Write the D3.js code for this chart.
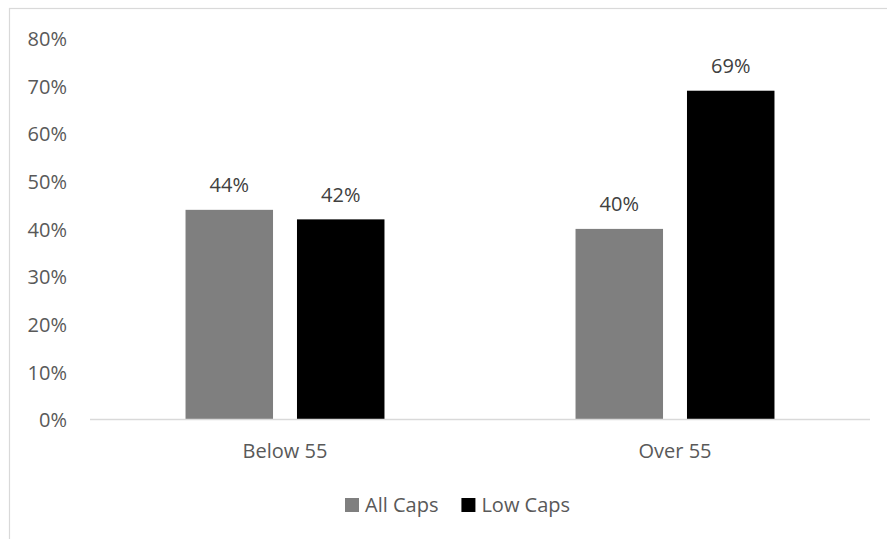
<!DOCTYPE html>
<html>
<head>
<meta charset="utf-8">
<script src="https://cdn.jsdelivr.net/npm/d3@7"></script>
<style>
  html, body { margin: 0; padding: 0; background: #fff; }
  svg { display: block; font-family: "Open Sans", "Noto Sans", sans-serif; }
</style>
</head>
<body>
<svg id="chart" width="887" height="539"></svg>
<script>
// Share of respondents by age group
const categories = ["Below 55", "Over 55"];
const series = ["All Caps", "Low Caps"];
const allCaps = [0.44, 0.40];
const lowCaps = [0.42, 0.69];
const yTicks = [0, 0.1, 0.2, 0.3, 0.4, 0.5, 0.6, 0.7, 0.8];
const colors = ["#7f7f7f", "#000000"];

const values = [allCaps, lowCaps];
const rows = categories.map((c, i) => ({
  category: c,
  bars: series.map((s, j) => ({ series: s, value: values[j][i], color: colors[j] }))
}));

const svg = d3.select("#chart");
const W = 887, H = 539;
const plot = { left: 90, right: 870, top: 38.3, bottom: 419.5 };

// outer chart frame (extends past the visible area)
svg.append("rect")
  .attr("x", 9.5).attr("y", 8.5)
  .attr("width", W + 20).attr("height", H + 20)
  .attr("fill", "none").attr("stroke", "#d9d9d9").attr("stroke-width", 1.2);

const y = d3.scaleLinear().domain([0, 0.8]).range([plot.bottom, plot.top]);
const x0 = d3.scaleBand().domain(categories).range([plot.left, plot.right]).padding(0);
const x1 = d3.scaleBand().domain(series).range([0, x0.bandwidth()])
  .paddingInner(0.215).paddingOuter(0.857);

const fmt = d3.format(".0%");

// y axis labels only (no line, no ticks)
const yAxis = d3.axisLeft(y).tickValues(yTicks).tickFormat(fmt).tickSize(0).tickPadding(0);
const gy = svg.append("g").attr("transform", "translate(67,0)").call(yAxis);
gy.select(".domain").remove();
gy.selectAll("text")
  .attr("font-family", "\"Open Sans\", sans-serif")
  .attr("font-size", 20)
  .attr("fill", "#595959")
  .attr("dy", "0.36em");

// bars
const groups = svg.append("g").selectAll("g")
  .data(rows).join("g")
  .attr("transform", d => `translate(${x0(d.category)},0)`);

groups.selectAll("rect")
  .data(d => d.bars).join("rect")
  .attr("x", d => x1(d.series))
  .attr("width", x1.bandwidth())
  .attr("y", d => y(d.value))
  .attr("height", d => y(0) - y(d.value))
  .attr("fill", d => d.color);

// value labels
groups.selectAll("text")
  .data(d => d.bars).join("text")
  .attr("x", d => x1(d.series) + x1.bandwidth() / 2)
  .attr("y", d => y(d.value) - 17.5)
  .attr("text-anchor", "middle")
  .attr("font-size", 20)
  .attr("fill", "#404040")
  .text(d => fmt(d.value));

// x axis baseline and category labels
const xAxis = d3.axisBottom(x0).tickSize(0).tickPadding(0);
const gx = svg.append("g").attr("transform", `translate(0,${plot.bottom})`).call(xAxis);
gx.select(".domain").attr("stroke", "#d9d9d9").attr("stroke-width", 1.5)
  .attr("d", `M${plot.left},0H${plot.right}`);
gx.selectAll("text")
  .attr("font-family", "\"Open Sans\", sans-serif")
  .attr("font-size", 20)
  .attr("fill", "#595959")
  .attr("dy", 0)
  .attr("y", 38.5);

// legend
const legend = svg.append("g").attr("transform", "translate(345,512)");
let lx = 0;
series.forEach((s, j) => {
  legend.append("rect")
    .attr("x", lx).attr("y", -14)
    .attr("width", 14).attr("height", 14)
    .attr("fill", colors[j]);
  const t = legend.append("text")
    .attr("x", lx + 20).attr("y", 0)
    .attr("font-size", 20)
    .attr("fill", "#595959")
    .text(s);
  lx += 20 + t.node().getComputedTextLength() + 23;
});
</script>
</body>
</html>
